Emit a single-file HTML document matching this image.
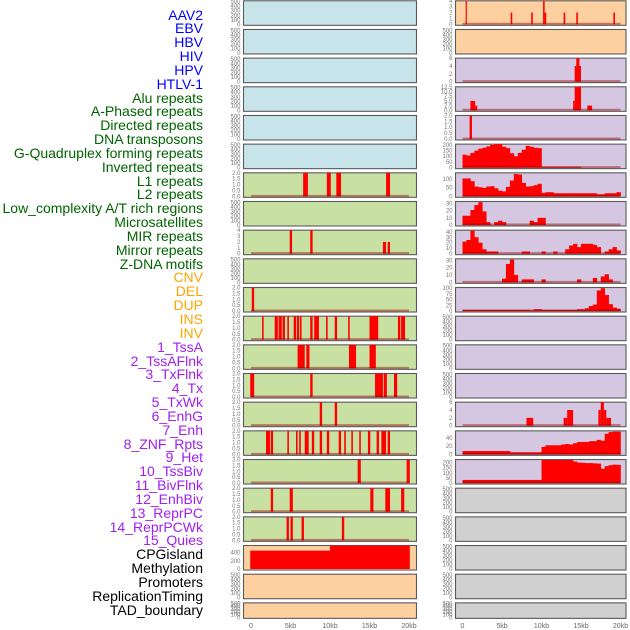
<!DOCTYPE html>
<html><head><meta charset="utf-8">
<style>
html,body{margin:0;padding:0;background:#fff;}
#root{position:relative;width:630px;height:630px;overflow:hidden;font-family:"Liberation Sans",sans-serif;}
.lbl{position:absolute;right:427px;font-size:14px;line-height:14px;white-space:nowrap;}
svg{position:absolute;left:0;top:0;}
</style></head>
<body>
<div id="root">
<svg id="chart" width="630" height="630"></svg>
</div>
<script>
// ---------- labels ----------
const trackLabels = ["AAV2","EBV","HBV","HIV","HPV","HTLV-1","Alu repeats","A-Phased repeats","Directed repeats","DNA transposons","G-Quadruplex forming repeats","Inverted repeats","L1 repeats","L2 repeats","Low_complexity A/T rich regions","Microsatellites","MIR repeats","Mirror repeats","Z-DNA motifs","CNV","DEL","DUP","INS","INV","1_TssA","2_TssAFlnk","3_TxFlnk","4_Tx","5_TxWk","6_EnhG","7_Enh","8_ZNF_Rpts","9_Het","10_TssBiv","11_BivFlnk","12_EnhBiv","13_ReprPC","14_ReprPCWk","15_Quies","CPGisland","Methylation","Promoters","ReplicationTiming","TAD_boundary"];
const labelColors = ["#0000ff","#0000ff","#0000ff","#0000ff","#0000ff","#0000ff","#006400","#006400","#006400","#006400","#006400","#006400","#006400","#006400","#006400","#006400","#006400","#006400","#006400","#ffa500","#ffa500","#ffa500","#ffa500","#ffa500","#a020f0","#a020f0","#a020f0","#a020f0","#a020f0","#a020f0","#a020f0","#a020f0","#a020f0","#a020f0","#a020f0","#a020f0","#a020f0","#a020f0","#a020f0","#000000","#000000","#000000","#000000","#000000"];
const xTickValues = [0,5,10,15,20];
const xTickLabels = ["0","5kb","10kb","15kb","20kb"];

// ---------- col1 segment data [startKb, endKb, value] ----------
const segAlu = [[6.6,7.2,2],[9.6,10.1,2],[10.8,11.4,2],[17.1,17.6,2]];
const segDirected = [[4.9,5.2,4],[7.5,7.8,4],[16.7,17.1,2],[17.3,17.6,2]];
const segG4 = [[0.1,0.4,2]];
const segInverted = [[1.4,1.6,2],[3.0,3.4,2],[3.5,3.9,2],[4.0,4.3,2],[4.6,4.8,2],[5.4,5.7,2],[5.8,6.1,2],[6.2,6.4,2],[7.5,7.8,2],[8.0,8.6,2],[9.5,9.7,2],[10.6,10.9,2],[12.3,12.5,2],[15.0,16.1,2],[18.6,18.9,2],[19.0,19.5,2]];
const segL1 = [[5.9,6.8,2],[7.0,7.4,2],[12.4,13.3,2],[15.0,15.8,2]];
const segL2 = [[-0.1,0.4,2],[7.5,7.8,2],[15.7,16.7,2],[16.8,17.2,2],[18.1,18.5,2]];
const segLowComplexity = [[8.7,9.0,2],[10.6,10.9,2]];
const segMicro = [[1.9,2.4,2],[2.5,2.8,2],[4.6,4.8,2],[5.7,5.9,2],[6.1,6.3,2],[6.8,7.3,2],[7.7,8.0,2],[8.7,9.0,2],[9.6,9.9,2],[11.1,11.4,2],[11.8,12.0,2],[12.7,12.9,2],[13.7,13.9,2],[14.8,15.1,2],[15.9,16.2,2],[16.5,17.1,2],[17.3,17.6,2]];
const segMIR = [[13.5,13.9,2],[19.7,20.1,2]];
const segMirror = [[2.5,2.8,2],[4.9,5.3,2],[15.1,15.5,2],[17.0,17.6,2],[19.0,19.4,2]];
const segZDNA = [[4.5,4.8,2],[5.0,5.3,2],[6.4,6.7,2],[11.5,11.8,2]];
const segCNV = [[-0.1,10.0,450],[10.0,20.1,575]];

// ---------- col2 data ----------
const segINS = [[0.4,0.55,4],[6.1,6.3,2],[8.7,8.9,2],[10.2,10.4,4],[10.4,10.6,2],[12.8,13.0,2],[14.4,14.6,2],[19.1,19.3,2]];
const segTssA = [[14.2,15.0,4],[14.4,14.8,6]];
const segTssAFlnk = [[1.0,1.6,5],[1.6,1.86,2.5],[14.0,14.2,5],[14.2,15.0,12.5],[15.8,16.4,2.5]];
const segTxFlnk = [[0.9,1.2,2]];
const binsTx = [114,106,129,149,166,174,186,200,206,206,183,171,126,100,129,157,191,183,174,171,8,8,8,8,8,8,8,8,8,8,0,0,0,0,0,0,0,0,0,0];
const binsTxWk = [104,104,88,57,53,49,57,59,47,33,29,55,92,130,127,78,57,59,65,73,20,24,24,18,18,18,18,18,18,18,18,18,18,18,12,12,18,18,18,24];
const binsEnhG = [13,13,21,28,32,19,4,0,4,6,4,0,0,0,0,0,0,6,4,10,10,0,0,0,0,0,0,0,0,0,0,0,0,0,0,0,0,0,0,0];
const binsEnh = [22,25,42,30,20,8,4,4,4,0,0,0,0,0,0,4,4,0,0,0,4,0,0,4,0,0,8,15,18,12,18,18,18,16,12,0,4,8,12,6];
const binsZNF = [0,0,0,0,0,0,0,0,0,0,5,25,31,10,0,4,4,4,0,0,4,0,0,0,0,0,0,0,0,4,0,0,0,6,0,8,11,4,0,0];
const binsHet = [5,5,5,5,5,5,5,5,5,5,5,5,5,5,5,5,5,3,8,8,5,5,5,5,5,5,5,5,5,8,8,12,22,28,90,100,70,30,15,10];
const segReprPC = [[8.1,8.95,2],[12.8,13.25,2],[13.25,14.0,4],[17.2,17.5,4],[17.5,17.9,6],[17.9,18.2,4],[18.2,18.8,2]];
const binsReprPCWk = [8,8,8,8,8,8,8,8,8,8,8,8,5,5,5,5,5,5,5,5,18,22,22,22,22,24,25,24,27,30,30,30,32,32,35,33,50,54,55,55];
const binsQuies = [30,30,30,30,30,30,30,30,30,30,30,30,30,30,30,30,30,30,30,30,225,225,225,225,225,225,225,225,210,200,198,195,195,192,190,140,165,175,180,178];

// ---------- panel configuration ----------
const emptyTicks = [0,100,200,300,400,500];
const bg = {blue:"#c8e4eb",green:"#c8e1a3",orange:"#fecf9f",purple:"#d5c6e1",gray:"#d0d0d0"};
const col1 = [
 {c:"blue"},{c:"blue"},{c:"blue"},{c:"blue"},{c:"blue"},{c:"blue"},
 {c:"green",seg:segAlu,ymax:2,ticks:[0,0.5,1,1.5,2],fmt:1},
 {c:"green"},
 {c:"green",seg:segDirected,ymax:4,ticks:[0,1,2,3,4]},
 {c:"green"},
 {c:"green",seg:segG4,ymax:2,ticks:[0,0.5,1,1.5,2],fmt:1},
 {c:"green",seg:segInverted,ymax:2,ticks:[0,0.5,1,1.5,2],fmt:1},
 {c:"green",seg:segL1,ymax:2,ticks:[0,0.5,1,1.5,2],fmt:1},
 {c:"green",seg:segL2,ymax:2,ticks:[0,0.5,1,1.5,2],fmt:1},
 {c:"green",seg:segLowComplexity,ymax:2,ticks:[0,0.5,1,1.5,2],fmt:1},
 {c:"green",seg:segMicro,ymax:2,ticks:[0,0.5,1,1.5,2],fmt:1},
 {c:"green",seg:segMIR,ymax:2,ticks:[0,0.5,1,1.5,2],fmt:1},
 {c:"green",seg:segMirror,ymax:2,ticks:[0,0.5,1,1.5,2],fmt:1},
 {c:"green",seg:segZDNA,ymax:2,ticks:[0,0.5,1,1.5,2],fmt:1},
 {c:"orange",seg:segCNV,ymax:575,ticks:[0,200,400],nobase:1},
 {c:"orange"},{c:"orange"}
];
const col2 = [
 {c:"orange",seg:segINS,ymax:4,ticks:[0,1,2,3,4]},
 {c:"orange"},
 {c:"purple",seg:segTssA,ymax:6,ticks:[0,2,4,6]},
 {c:"purple",seg:segTssAFlnk,ymax:12.5,ticks:[0,2.5,5,7.5,10,12.5],fmt:1},
 {c:"purple",seg:segTxFlnk,ymax:2,ticks:[0,0.5,1,1.5,2],fmt:1},
 {c:"purple",bins:binsTx,ymax:206,ticks:[0,50,100,150,200]},
 {c:"purple",bins:binsTxWk,ymax:137,ticks:[0,50,100]},
 {c:"purple",bins:binsEnhG,ymax:33,ticks:[0,10,20,30]},
 {c:"purple",bins:binsEnh,ymax:43,ticks:[0,10,20,30,40]},
 {c:"purple",bins:binsZNF,ymax:32,ticks:[0,10,20,30]},
 {c:"purple",bins:binsHet,ymax:103,ticks:[0,25,50,75,100]},
 {c:"purple"},{c:"purple"},{c:"purple"},
 {c:"purple",seg:segReprPC,ymax:6,ticks:[0,2,4,6]},
 {c:"purple",bins:binsReprPCWk,ymax:57,ticks:[0,20,40]},
 {c:"purple",bins:binsQuies,ymax:230,ticks:[0,50,100,150,200]},
 {c:"gray"},{c:"gray"},{c:"gray"},{c:"gray"},{c:"gray"}
];

const NS = "http://www.w3.org/2000/svg";
const svg = document.getElementById("chart");
const root = document.getElementById("root");
function mk(tag, attrs, parent){const e=document.createElementNS(NS,tag);for(const k in attrs)e.setAttribute(k,attrs[k]);(parent||svg).appendChild(e);return e;}

// labels
trackLabels.forEach((t,i)=>{
  const d=document.createElement("div");
  d.className="lbl";
  d.textContent=t;
  d.style.color=labelColors[i];
  d.style.top=(15+13.84*i-7.5)+"px";
  
  
  root.appendChild(d);
});

const pitch = 28.67;
function drawCol(cfgs, left, right, x0, colName){
  const xs = kb => x0 + kb*7.9;
  cfgs.forEach((p,i)=>{
    const top = 0.8 + pitch*i;
    const h = (i===21) ? 15.5 : 24.5;
    const bottom = top + h;
    const g = mk("g",{});
    
    
    const r = mk("rect",{x:left,y:top,width:right-left,height:h,fill:bg[p.c],stroke:"#5a5a5a","stroke-width":1.1},g);
    
    
    const y0 = bottom - 1;
    const ymax = p.ymax || 520;
    const ys = v => y0 - (v/ymax)*(y0-top);
    const ticks = p.ticks || emptyTicks;
    ticks.forEach(t=>{
      const tx = mk("text",{x:left-3,y:ys(t)+2,"font-size":6,"text-anchor":"end",fill:"#777"},g);
      tx.textContent = p.fmt ? t.toFixed(1) : String(t);
      
      
    });
    if(p.seg){
      p.seg.forEach(s=>{
        const b = mk("rect",{x:xs(s[0]),y:ys(s[2]),width:Math.max(1.2,xs(s[1])-xs(s[0])),height:y0-ys(s[2]),fill:"#ff0000"},g);
        
        
      });
    }
    if(p.bins){
      p.bins.forEach((v,k)=>{
        if(v<=0) return;
        const b = mk("rect",{x:xs(k*0.5),y:ys(v),width:7.9*0.5+0.3,height:y0-ys(v),fill:"#ff0000"},g);
        
        
      });
    }
    if((p.seg||p.bins) && !p.nobase){
      const ln = mk("line",{x1:xs(0),x2:xs(20),y1:y0-0.5,y2:y0-0.5,stroke:"rgba(150,0,0,0.45)","stroke-width":2},g);
      
      
    }
  });
  xTickValues.forEach((v,k)=>{
    const t = mk("text",{x:xs(v),y:628,"font-size":7,"text-anchor":"middle",fill:"#666"});
    t.textContent = xTickLabels[k];
    
    
  });
}
drawCol(col1, 243.5, 416.5, 251, "left");
drawCol(col2, 455.5, 626, 462.5, "right");
</script>
</body></html>
